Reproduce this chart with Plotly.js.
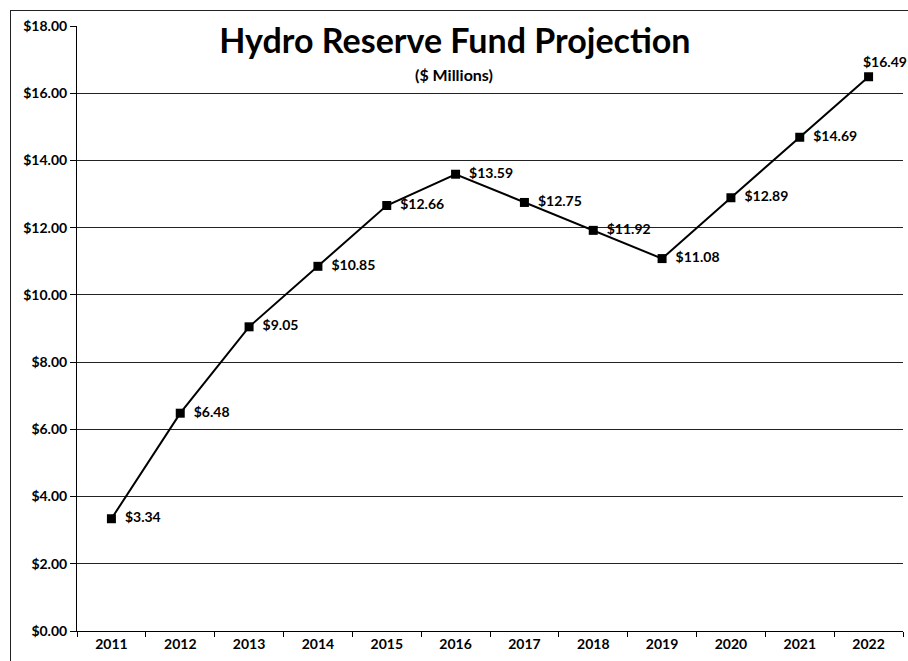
<!DOCTYPE html>
<html><head><meta charset="utf-8">
<script src="https://cdn.plot.ly/plotly-3.0.1.min.js"></script>
<style>
html,body{margin:0;padding:0;background:#fff;overflow:hidden;}
#wrap{position:relative;width:908px;height:661px;}
#frame{position:absolute;left:10px;top:10px;width:1000px;height:1000px;border-left:1px solid #222;border-top:1px solid #222;pointer-events:none;z-index:5;}
</style></head><body>
<div id="wrap"><div id="chart"></div><div id="frame"></div></div>
<script>
const years = ['2011','2012','2013','2014','2015','2016','2017','2018','2019','2020','2021','2022'];
const fundValues = [3.34, 6.48, 9.05, 10.85, 12.66, 13.59, 12.75, 11.92, 11.08, 12.89, 14.69, 16.49];

const font = 'Lato, "Open Sans", "Liberation Sans", sans-serif';
const fmt = v => '$' + v.toFixed(2);
const last = years.length - 1;

const lineTrace = {
  x: years, y: fundValues, type: 'scatter', mode: 'lines+markers',
  line: {color: '#000', width: 2},
  marker: {symbol: 'square', size: 9, color: '#000'},
  cliponaxis: false, hoverinfo: 'skip'
};
// labels right of each point (the last one is placed above as an annotation)
const labelTrace = {
  x: years.slice(0, last), y: fundValues.slice(0, last), type: 'scatter', mode: 'markers+text',
  marker: {symbol: 'square', size: 20, color: 'rgba(0,0,0,0)'},
  text: fundValues.slice(0, last).map(fmt),
  textposition: 'middle right',
  textfont: {family: font, size: 14, color: '#000', weight: 'bold'},
  cliponaxis: false, hoverinfo: 'skip'
};
const layout = {
  width: 908, height: 661,
  margin: {l: 77, r: 5, t: 26, b: 30},
  paper_bgcolor: '#fff', plot_bgcolor: '#fff',
  showlegend: false,
  font: {family: font, color: '#000'},
  title: {text: 'Hydro Reserve Fund Projection', x: 0.501, xref: 'container', xanchor: 'center',
          y: 1 - 41/661, yref: 'container', yanchor: 'middle',
          font: {family: font, size: 34, color: '#000', weight: 'bold'}},
  annotations: [
    {text: '($ Millions)', xref: 'paper', yref: 'paper', x: (454-77)/826, y: (631-74)/605,
     xanchor: 'center', yanchor: 'middle', showarrow: false,
     font: {family: font, size: 16, color: '#000', weight: 'bold'}},
    {text: fmt(fundValues[last]), xref: 'x', yref: 'y', x: last, y: fundValues[last],
     xanchor: 'left', yanchor: 'middle', xshift: -8, yshift: 15, showarrow: false,
     font: {family: font, size: 14, color: '#000', weight: 'bold'}}
  ],
  xaxis: {type: 'category', range: [-0.5, 11.5], tickson: 'boundaries', ticks: 'outside', ticklen: 5, tickcolor: '#000',
          showline: true, linecolor: '#000', linewidth: 1, showgrid: false, zeroline: false,
          tickfont: {family: font, size: 14, color: '#000', weight: 'bold'}, fixedrange: true},
  yaxis: {range: [0, 18], dtick: 2, tickformat: '$.2f', ticks: 'outside', ticklen: 6, tickcolor: '#000',
          showline: true, linecolor: '#000', linewidth: 1, showgrid: true, gridcolor: '#222', gridwidth: 1,
          zeroline: false, tickfont: {family: font, size: 14, color: '#000', weight: 'bold'}, fixedrange: true}
};
Plotly.newPlot('chart', [lineTrace, labelTrace], layout, {displayModeBar: false, staticPlot: true});
</script>
</body></html>
